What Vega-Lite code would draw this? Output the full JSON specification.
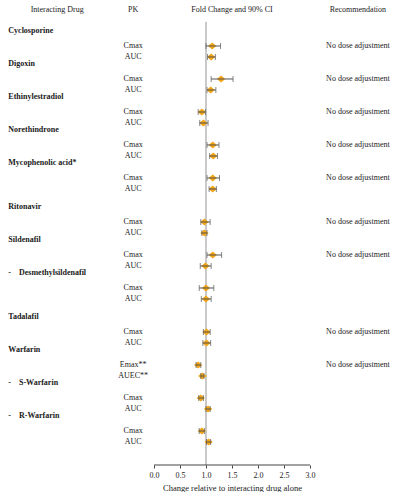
{
  "$schema": "https://vega.github.io/schema/vega-lite/v6.json",
  "width": 400,
  "height": 465,
  "padding": 0,
  "background": "white",
  "config": {
    "view": {"stroke": null},
    "font": "Liberation Serif",
    "text": {"font": "Liberation Serif", "fontSize": 8, "color": "#1a1a1a", "baseline": "middle"}
  },
  "datasets": {
    "pk": [
      {"drug": "Cyclosporine", "pk": "Cmax", "row": 0, "est": 1.12, "lo": 1.00, "hi": 1.28, "rec": "No dose adjustment"},
      {"drug": "Cyclosporine", "pk": "AUC", "row": 1, "est": 1.10, "lo": 1.03, "hi": 1.18, "rec": ""},
      {"drug": "Digoxin", "pk": "Cmax", "row": 3, "est": 1.29, "lo": 1.10, "hi": 1.52, "rec": "No dose adjustment"},
      {"drug": "Digoxin", "pk": "AUC", "row": 4, "est": 1.09, "lo": 1.02, "hi": 1.19, "rec": ""},
      {"drug": "Ethinylestradiol", "pk": "Cmax", "row": 6, "est": 0.92, "lo": 0.85, "hi": 0.99, "rec": "No dose adjustment"},
      {"drug": "Ethinylestradiol", "pk": "AUC", "row": 7, "est": 0.95, "lo": 0.88, "hi": 1.04, "rec": ""},
      {"drug": "Norethindrone", "pk": "Cmax", "row": 9, "est": 1.13, "lo": 1.02, "hi": 1.25, "rec": "No dose adjustment"},
      {"drug": "Norethindrone", "pk": "AUC", "row": 10, "est": 1.14, "lo": 1.07, "hi": 1.22, "rec": ""},
      {"drug": "Mycophenolic acid*", "pk": "Cmax", "row": 12, "est": 1.13, "lo": 1.02, "hi": 1.26, "rec": "No dose adjustment"},
      {"drug": "Mycophenolic acid*", "pk": "AUC", "row": 13, "est": 1.13, "lo": 1.06, "hi": 1.20, "rec": ""},
      {"drug": "Ritonavir", "pk": "Cmax", "row": 16, "est": 0.97, "lo": 0.90, "hi": 1.08, "rec": "No dose adjustment"},
      {"drug": "Ritonavir", "pk": "AUC", "row": 17, "est": 0.97, "lo": 0.92, "hi": 1.02, "rec": ""},
      {"drug": "Sildenafil", "pk": "Cmax", "row": 19, "est": 1.13, "lo": 1.02, "hi": 1.30, "rec": "No dose adjustment"},
      {"drug": "Sildenafil", "pk": "AUC", "row": 20, "est": 0.99, "lo": 0.89, "hi": 1.10, "rec": ""},
      {"drug": "Desmethylsildenafil", "pk": "Cmax", "row": 22, "est": 1.00, "lo": 0.87, "hi": 1.15, "rec": ""},
      {"drug": "Desmethylsildenafil", "pk": "AUC", "row": 23, "est": 1.00, "lo": 0.91, "hi": 1.10, "rec": ""},
      {"drug": "Tadalafil", "pk": "Cmax", "row": 26, "est": 1.01, "lo": 0.95, "hi": 1.08, "rec": "No dose adjustment"},
      {"drug": "Tadalafil", "pk": "AUC", "row": 27, "est": 1.01, "lo": 0.94, "hi": 1.09, "rec": ""},
      {"drug": "Warfarin", "pk": "Emax**", "row": 29, "est": 0.85, "lo": 0.81, "hi": 0.90, "rec": "No dose adjustment"},
      {"drug": "Warfarin", "pk": "AUEC**", "row": 30, "est": 0.93, "lo": 0.90, "hi": 0.96, "rec": ""},
      {"drug": "S-Warfarin", "pk": "Cmax", "row": 32, "est": 0.90, "lo": 0.86, "hi": 0.95, "rec": ""},
      {"drug": "S-Warfarin", "pk": "AUC", "row": 33, "est": 1.04, "lo": 1.00, "hi": 1.08, "rec": ""},
      {"drug": "R-Warfarin", "pk": "Cmax", "row": 35, "est": 0.92, "lo": 0.87, "hi": 0.97, "rec": ""},
      {"drug": "R-Warfarin", "pk": "AUC", "row": 36, "est": 1.05, "lo": 1.01, "hi": 1.09, "rec": ""}
    ],
    "drugs": [
      {"name": "Cyclosporine", "row": 0},
      {"name": "Digoxin", "row": 3},
      {"name": "Ethinylestradiol", "row": 6},
      {"name": "Norethindrone", "row": 9},
      {"name": "Mycophenolic acid*", "row": 12},
      {"name": "Ritonavir", "row": 16},
      {"name": "Sildenafil", "row": 19},
      {"name": "-\u00a0\u00a0\u00a0\u00a0Desmethylsildenafil", "row": 22},
      {"name": "Tadalafil", "row": 26},
      {"name": "Warfarin", "row": 29},
      {"name": "-\u00a0\u00a0\u00a0\u00a0S-Warfarin", "row": 32},
      {"name": "-\u00a0\u00a0\u00a0\u00a0R-Warfarin", "row": 35}
    ],
    "headers": [
      {"label": "Interacting Drug", "pos": -1.86},
      {"label": "PK", "pos": -0.4},
      {"label": "Fold Change and 90% CI", "pos": 1.5},
      {"label": "Recommendation", "pos": 3.92}
    ],
    "guides": [
      {"ref": 1, "from": 0, "to": 3, "top": -2.2, "bottom": 38.09}
    ]
  },
  "data": {"name": "pk"},
  "layer": [
    {
      "data": {"name": "guides"},
      "mark": {"type": "rule", "color": "#c9c9c9", "strokeWidth": 2},
      "encoding": {
        "x": {
          "field": "ref",
          "type": "quantitative",
          "scale": {"domain": [-2.96, 4.73], "nice": false, "zero": false},
          "axis": {
            "values": [0, 0.5, 1, 1.5, 2, 2.5, 3],
            "format": ".1f",
            "domain": false,
            "grid": false,
            "tickSize": 3,
            "tickColor": "#444",
            "labelFont": "Liberation Serif",
            "labelFontSize": 8,
            "labelColor": "#1a1a1a",
            "labelPadding": 3,
            "title": "Change relative to interacting drug alone",
            "titleFont": "Liberation Serif",
            "titleFontSize": 8.5,
            "titleFontWeight": "normal",
            "titleColor": "#1a1a1a",
            "titleX": 232,
            "titlePadding": 4
          }
        },
        "y": {
          "field": "top",
          "type": "quantitative",
          "scale": {"domain": [-4.18, 38.09], "reverse": true, "nice": false, "zero": false},
          "axis": null
        },
        "y2": {"field": "bottom"}
      }
    },
    {
      "data": {"name": "guides"},
      "mark": {"type": "rule", "color": "#444", "strokeWidth": 1},
      "encoding": {
        "x": {"field": "from", "type": "quantitative"},
        "x2": {"field": "to"},
        "y": {"field": "bottom", "type": "quantitative"}
      }
    },
    {
      "mark": {"type": "point", "shape": "M-1,0L0,-0.85L1,0L0,0.85Z", "filled": true, "size": 70, "color": "#F2A516", "opacity": 1},
      "encoding": {
        "x": {"field": "est", "type": "quantitative"},
        "y": {"field": "row", "type": "quantitative"}
      }
    },
    {
      "mark": {"type": "rule", "color": "#555", "strokeWidth": 1},
      "encoding": {
        "x": {"field": "lo", "type": "quantitative"},
        "x2": {"field": "hi"},
        "y": {"field": "row", "type": "quantitative"}
      }
    },
    {
      "mark": {"type": "tick", "orient": "vertical", "color": "#555", "thickness": 1, "size": 6},
      "encoding": {
        "x": {"field": "lo", "type": "quantitative"},
        "y": {"field": "row", "type": "quantitative"}
      }
    },
    {
      "mark": {"type": "tick", "orient": "vertical", "color": "#555", "thickness": 1, "size": 6},
      "encoding": {
        "x": {"field": "hi", "type": "quantitative"},
        "y": {"field": "row", "type": "quantitative"}
      }
    },
    {
      "data": {"name": "headers"},
      "mark": {"type": "text"},
      "encoding": {
        "x": {"field": "pos", "type": "quantitative"},
        "y": {"datum": -3.27, "type": "quantitative"},
        "text": {"field": "label"}
      }
    },
    {
      "mark": {"type": "text"},
      "encoding": {
        "x": {"datum": -0.4, "type": "quantitative"},
        "y": {"field": "row", "type": "quantitative"},
        "text": {"field": "pk"}
      }
    },
    {
      "transform": [{"filter": "datum.rec != ''"}],
      "mark": {"type": "text"},
      "encoding": {
        "x": {"datum": 3.92, "type": "quantitative"},
        "y": {"field": "row", "type": "quantitative"},
        "text": {"field": "rec"}
      }
    },
    {
      "data": {"name": "drugs"},
      "mark": {"type": "text", "align": "left", "fontWeight": "bold", "dy": -15},
      "encoding": {
        "x": {"datum": -2.8, "type": "quantitative"},
        "y": {"field": "row", "type": "quantitative"},
        "text": {"field": "name"}
      }
    }
  ]
}
